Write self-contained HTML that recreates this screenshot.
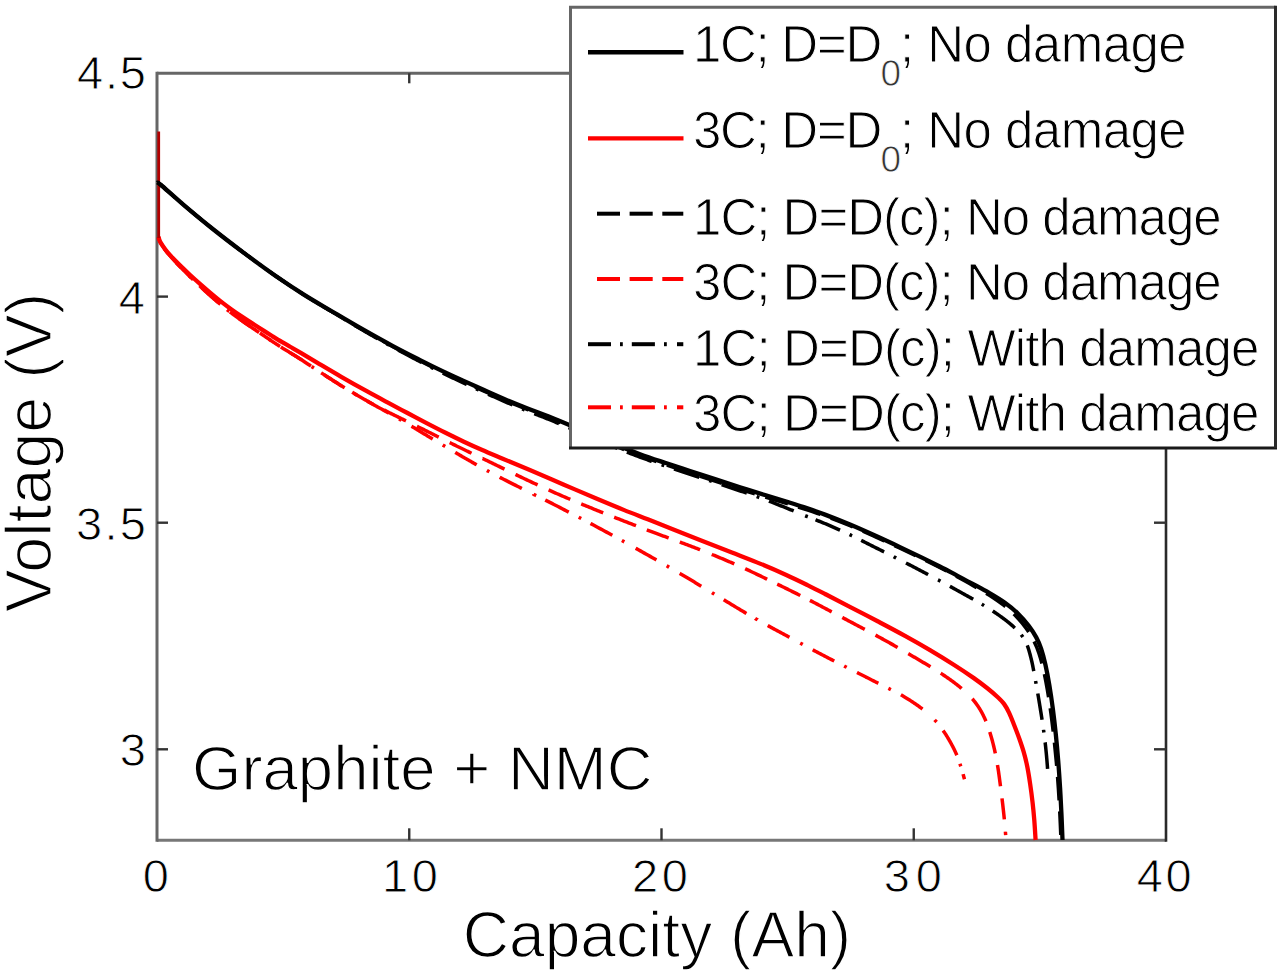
<!DOCTYPE html>
<html><head><meta charset="utf-8"><style>
html,body{margin:0;padding:0;background:#fff;}
svg{display:block;}
text{font-family:"Liberation Sans",sans-serif;}
</style></head><body>
<svg width="1280" height="976" viewBox="0 0 1280 976">
<rect width="1280" height="976" fill="#fff"/>
<line x1="157" y1="73.3" x2="1166" y2="73.3" stroke="#666" stroke-width="3"/>
<line x1="157" y1="840.3" x2="1166" y2="840.3" stroke="#777" stroke-width="3"/>
<line x1="157" y1="71.8" x2="157" y2="841.8" stroke="#666" stroke-width="3"/>
<line x1="1166" y1="71.8" x2="1166" y2="841.8" stroke="#2a2a2a" stroke-width="2.6"/>
<line x1="409.25" y1="840.3" x2="409.25" y2="828.3" stroke="#333" stroke-width="2.4"/>
<line x1="409.25" y1="73.3" x2="409.25" y2="83.3" stroke="#333" stroke-width="2.4"/>
<line x1="661.5" y1="840.3" x2="661.5" y2="828.3" stroke="#333" stroke-width="2.4"/>
<line x1="661.5" y1="73.3" x2="661.5" y2="83.3" stroke="#333" stroke-width="2.4"/>
<line x1="913.75" y1="840.3" x2="913.75" y2="828.3" stroke="#333" stroke-width="2.4"/>
<line x1="913.75" y1="73.3" x2="913.75" y2="83.3" stroke="#333" stroke-width="2.4"/>
<line x1="157" y1="296.6" x2="168" y2="296.6" stroke="#333" stroke-width="2.4"/>
<line x1="1166" y1="296.6" x2="1154" y2="296.6" stroke="#333" stroke-width="2.4"/>
<line x1="157" y1="522.7" x2="168" y2="522.7" stroke="#333" stroke-width="2.4"/>
<line x1="1166" y1="522.7" x2="1154" y2="522.7" stroke="#333" stroke-width="2.4"/>
<line x1="157" y1="749.3" x2="168" y2="749.3" stroke="#333" stroke-width="2.4"/>
<line x1="1166" y1="749.3" x2="1154" y2="749.3" stroke="#333" stroke-width="2.4"/>
<path d="M164.56,248.83 L164.62,248.92 L164.81,249.19 L165.01,249.47 L165.21,249.75 L165.41,250.04 L165.62,250.32 L165.84,250.61 L166.06,250.91 L166.28,251.21 L166.51,251.51 L166.75,251.82 L167.00,252.13 L167.25,252.45 L167.51,252.77 L167.77,253.10 L168.04,253.43 L168.32,253.77 L168.60,254.10 L168.88,254.45 L169.17,254.79 L169.47,255.14 L169.77,255.49 L170.07,255.85 L170.38,256.21 L170.69,256.57 L171.01,256.93 L171.33,257.30 L171.66,257.67 L171.99,258.04 L172.32,258.42 L172.66,258.80 L173.00,259.18 L173.35,259.56 L173.70,259.95 L174.05,260.34 L174.41,260.73 L174.78,261.12 L175.15,261.52 L175.52,261.92 L175.90,262.33 L176.28,262.73 L176.66,263.14 L177.05,263.56 L177.45,263.97 L177.85,264.39 L178.25,264.81 L178.66,265.23 L179.07,265.66 L179.48,266.09 L179.90,266.53 L180.32,266.96 L180.75,267.40 L180.87,267.52 M199.55,285.78 L199.57,285.80 L200.08,286.28 L200.59,286.75 L201.09,287.22 L201.60,287.69 L202.10,288.15 L202.61,288.62 L203.11,289.09 L203.62,289.55 L204.12,290.01 L204.62,290.47 L205.13,290.93 L205.63,291.39 L206.14,291.85 L206.64,292.31 L207.15,292.77 L207.66,293.23 L208.16,293.68 L208.67,294.14 L209.18,294.60 L209.69,295.05 L210.20,295.51 L210.72,295.96 L211.23,296.42 L211.75,296.87 L212.26,297.33 L212.78,297.78 L213.30,298.24 L213.81,298.69 L214.33,299.14 L214.85,299.60 L215.37,300.05 L215.89,300.50 L216.41,300.95 L216.94,301.40 L217.46,301.84 L217.98,302.29 L218.04,302.34 M238.66,318.37 L238.73,318.43 L239.25,318.80 L239.77,319.17 L240.29,319.54 L240.81,319.91 L241.33,320.28 L241.85,320.65 L242.37,321.02 L242.89,321.39 L243.41,321.75 L243.93,322.12 L244.45,322.49 L244.97,322.85 L245.49,323.21 L246.01,323.57 L246.53,323.94 L247.05,324.30 L247.57,324.66 L248.09,325.01 L248.61,325.37 L249.13,325.73 L249.64,326.08 L250.16,326.44 L250.68,326.79 L251.19,327.14 L251.70,327.50 L252.22,327.85 L252.73,328.19 L253.24,328.54 L253.75,328.89 L254.25,329.23 L254.76,329.57 L255.27,329.92 L255.77,330.26 L256.28,330.60 L256.78,330.94 L257.29,331.28 L257.79,331.61 L258.30,331.95 L258.80,332.29 L259.09,332.49 M280.82,346.99 L280.82,346.99 L281.29,347.29 L281.75,347.59 L282.21,347.88 L282.66,348.16 L283.11,348.44 L283.55,348.71 L283.98,348.98 L284.41,349.24 L284.84,349.50 L285.27,349.76 L285.70,350.02 L286.12,350.28 L286.55,350.54 L286.99,350.80 L287.42,351.06 L287.86,351.32 L288.30,351.59 L288.75,351.86 L289.21,352.14 L289.67,352.42 L290.14,352.71 L290.62,353.01 L291.11,353.31 L291.59,353.61 L292.07,353.90 L292.55,354.20 L293.03,354.49 L293.51,354.78 L293.99,355.08 L294.48,355.38 L294.97,355.69 L295.48,356.00 L295.99,356.31 L296.51,356.64 L297.05,356.97 L297.59,357.32 L298.16,357.67 L298.74,358.04 L299.33,358.42 L299.95,358.81 L300.59,359.22 L301.25,359.65 L301.92,360.08 M323.73,374.46 L324.00,374.64 L325.17,375.40 L326.35,376.17 L327.55,376.95 L328.77,377.74 L329.99,378.53 L331.23,379.33 L332.47,380.13 L333.72,380.93 L334.98,381.73 L336.24,382.53 L337.49,383.33 L338.75,384.12 L340.00,384.90 L341.25,385.67 L342.51,386.45 L343.78,387.23 L344.68,387.78 M367.17,401.08 L367.25,401.12 L368.40,401.79 L369.54,402.43 L370.65,403.07 L371.75,403.69 L372.84,404.29 L373.91,404.88 L374.96,405.47 L376.00,406.04 L377.03,406.60 L378.05,407.16 L379.05,407.71 L380.05,408.25 L381.03,408.79 L382.01,409.33 L382.98,409.86 L383.95,410.39 L384.90,410.91 L385.86,411.44 L386.80,411.97 L387.75,412.50 L388.68,413.03 L388.87,413.13 M411.47,426.23 L411.66,426.34 L412.64,426.93 L413.62,427.53 L414.61,428.12 L415.60,428.73 L416.60,429.33 L417.61,429.94 L418.62,430.55 L419.63,431.16 L420.65,431.78 L421.67,432.40 L422.69,433.01 L423.72,433.63 L424.75,434.25 L425.79,434.87 L426.83,435.50 L427.88,436.13 L428.93,436.76 L430.00,437.40 L431.06,438.04 L432.14,438.69 L432.74,439.05 M455.19,452.42 L455.24,452.45 L456.32,453.08 L457.40,453.72 L458.48,454.35 L459.57,454.99 L460.66,455.63 L461.75,456.26 L462.84,456.90 L463.94,457.54 L465.04,458.17 L466.15,458.81 L467.26,459.45 L468.37,460.09 L469.48,460.72 L470.59,461.35 L471.69,461.98 L472.79,462.61 L473.89,463.24 L474.99,463.86 L476.09,464.49 L476.69,464.83 M499.68,477.24 L499.96,477.39 L501.30,478.07 L502.65,478.76 L504.01,479.46 L505.40,480.16 L506.81,480.88 L508.23,481.60 L509.68,482.34 L511.16,483.08 L512.66,483.84 L514.19,484.61 L515.76,485.40 L517.35,486.20 L518.98,487.02 L520.63,487.86 L521.83,488.46 M545.23,500.08 L545.89,500.41 L547.88,501.40 L549.89,502.41 L551.90,503.43 L553.93,504.46 L555.97,505.50 L558.02,506.55 L560.11,507.63 L562.23,508.72 L564.37,509.82 L566.55,510.95 L568.74,512.08 M590.49,523.47 L591.24,523.87 L593.48,525.06 L595.70,526.24 L597.90,527.42 L600.08,528.59 L602.24,529.75 L604.41,530.92 L606.57,532.10 L608.74,533.28 L610.91,534.47 L612.35,535.26 M635.67,548.23 L636.36,548.61 L638.39,549.75 L640.40,550.88 L642.39,552.00 L644.36,553.11 L646.31,554.21 L648.24,555.30 L650.15,556.39 L652.05,557.46 L653.93,558.53 L655.79,559.59 L656.41,559.94 M679.67,573.38 L680.26,573.72 L682.01,574.74 L683.75,575.76 L685.48,576.79 L687.21,577.81 L688.93,578.83 L690.64,579.84 L692.34,580.86 L694.04,581.87 L695.72,582.88 L697.40,583.88 L699.08,584.89 L700.74,585.88 L701.29,586.22 M723.70,599.73 L724.21,600.05 L725.76,600.99 L727.29,601.92 L728.82,602.85 L730.33,603.77 L731.83,604.69 L733.32,605.59 L734.79,606.48 L736.25,607.37 L737.70,608.24 L739.12,609.09 L740.53,609.94 L741.93,610.76 L743.30,611.58 L744.65,612.37 L745.98,613.15 L746.42,613.41 M767.75,625.52 L768.14,625.74 L769.29,626.38 L770.43,627.01 L771.56,627.63 L772.69,628.25 L773.80,628.86 L774.91,629.46 L776.01,630.06 L777.10,630.65 L778.20,631.24 L779.28,631.82 L780.37,632.41 L781.46,632.99 L782.54,633.57 L783.63,634.15 L784.71,634.74 L785.81,635.32 L786.90,635.91 L788.00,636.50 L789.11,637.10 L789.48,637.30 M812.72,649.80 L813.10,650.00 L814.21,650.59 L815.33,651.18 L816.45,651.77 L817.57,652.36 L818.68,652.94 L819.80,653.53 L820.92,654.11 L822.03,654.70 L823.15,655.28 L824.26,655.86 L825.37,656.44 L826.49,657.02 L827.60,657.60 L828.71,658.18 L829.82,658.75 L830.93,659.32 L832.04,659.90 L833.15,660.47 L834.26,661.04 M856.99,672.50 L857.34,672.67 L858.37,673.20 L859.40,673.72 L860.43,674.24 L861.45,674.76 L862.47,675.28 L863.48,675.79 L864.48,676.30 L865.48,676.81 L866.47,677.32 L867.44,677.81 L868.41,678.31 L869.37,678.79 L870.31,679.28 L871.24,679.75 L872.15,680.21 L873.05,680.67 L873.94,681.12 L874.80,681.56 L875.65,681.98 L876.47,682.40 L877.27,682.80 L878.05,683.19 L878.31,683.32 M900.92,694.80 L901.16,694.94 L901.88,695.35 L902.62,695.78 L903.37,696.22 L904.14,696.69 L904.93,697.16 L905.74,697.66 L906.56,698.17 L907.40,698.69 L908.25,699.22 L909.11,699.76 L909.97,700.31 L910.85,700.87 L911.72,701.44 L912.60,702.02 L913.48,702.60 L914.35,703.18 L915.21,703.77 L916.07,704.36 L916.92,704.95 L917.76,705.54 L918.58,706.13 L919.38,706.72 L920.17,707.31 L920.94,707.89 L921.70,708.48 L922.46,709.07 M943.15,730.61 L943.29,730.81 L943.70,731.39 L944.10,731.97 L944.50,732.56 L944.89,733.14 L945.28,733.73 L945.67,734.32 L946.05,734.91 L946.42,735.50 L946.79,736.10 L947.16,736.69 L947.52,737.29 L947.88,737.88 L948.24,738.48 L948.59,739.08 L948.94,739.68 L949.28,740.28 L949.63,740.88 L949.97,741.48 L950.30,742.08 L950.64,742.68 L950.97,743.28 L951.30,743.88 L951.63,744.48 L951.96,745.08 L952.28,745.69 L952.60,746.29 L952.91,746.90 L953.23,747.51 L953.54,748.11 L953.84,748.72 L954.14,749.33 L954.44,749.94 L954.74,750.55 L955.02,751.16 L955.31,751.76 L955.59,752.37 L955.87,752.98 L956.14,753.59 L956.40,754.19 L956.66,754.80 L956.84,755.20 M963.08,774.17 L963.14,774.40 L963.33,775.07 L963.51,775.71 L963.68,776.33 L963.84,776.91 L963.99,777.46 L964.13,777.97 L964.26,778.43 L964.37,778.84 L964.47,779.19 L964.50,779.30 M533.66,494.33 L533.66,494.34 L535.54,495.26 L536.17,495.57 M578.71,517.27 L579.19,517.52 L581.19,518.57 M621.88,540.52 L622.40,540.81 L624.33,541.88 M666.69,565.84 L666.71,565.85 L668.50,566.88 L669.12,567.24 M712.00,592.65 L712.14,592.74 L713.73,593.69 L714.40,594.10 M755.21,618.47 L755.22,618.48 L756.43,619.17 L757.62,619.84 L757.64,619.86 M800.23,643.11 L800.34,643.17 L801.47,643.77 L802.59,644.38 L802.70,644.44 M844.20,666.07 L844.33,666.14 L845.45,666.70 L846.57,667.26 L846.70,667.33 M888.37,688.34 L888.49,688.40 L889.16,688.75 L889.85,689.10 L890.54,689.45 L890.87,689.62 M934.68,719.96 L934.73,720.02 L935.28,720.60 L935.82,721.18 L936.33,721.75 L936.58,722.02 M959.93,763.72 L959.97,763.85 L960.16,764.45 L960.36,765.05 L960.55,765.66 L960.74,766.27 L960.78,766.39 M189.10,275.78 L189.15,275.84 L189.64,276.32 L190.12,276.79 L190.61,277.27 L191.10,277.74 M227.09,309.71 L227.15,309.76 L227.67,310.16 L228.19,310.56 L228.70,310.97 L229.22,311.37 L229.30,311.42 M268.76,339.01 L268.79,339.03 L269.29,339.37 L269.80,339.71 L270.30,340.05 L270.80,340.38 L271.08,340.57 M311.63,366.53 L311.90,366.71 L312.78,367.29 L313.68,367.89 L313.97,368.08 M354.68,393.78 L354.90,393.91 L356.25,394.70 L357.09,395.20 M399.01,418.89 L399.19,418.99 L400.02,419.47 L400.87,419.96 L401.44,420.29 M442.75,445.04 L442.99,445.19 L444.08,445.84 L445.15,446.47 M486.89,470.49 L487.17,470.65 L488.40,471.31 L489.35,471.82" fill="none" stroke="#ff0000" stroke-width="3.5" stroke-linejoin="round" stroke-linecap="butt"/>
<path d="M158.50,237.01 L158.51,237.05 L158.55,237.18 L158.60,237.34 L158.65,237.50 L158.70,237.69 L158.75,237.89 L158.81,238.10 L158.88,238.33 L158.94,238.56 L159.01,238.81 L159.09,239.06 L159.17,239.32 L159.25,239.58 L159.33,239.84 L159.42,240.11 L159.52,240.37 L159.61,240.64 L159.71,240.90 L159.82,241.15 L159.93,241.40 L160.04,241.64 L160.15,241.87 L160.28,242.11 L160.40,242.35 L160.53,242.59 L160.67,242.83 L160.80,243.07 L160.95,243.32 L161.09,243.56 L161.24,243.81 L161.39,244.05 L161.55,244.30 L161.71,244.55 L161.87,244.80 L162.03,245.05 L162.20,245.31 L162.37,245.56 L162.54,245.82 L162.71,246.08 L162.88,246.34 L163.06,246.61 L163.23,246.87 L163.41,247.13 L163.59,247.40 L163.76,247.66 L163.94,247.93 L164.12,248.20 L164.31,248.47 L164.49,248.74 L164.68,249.01 L164.88,249.29 L165.07,249.56 L165.28,249.85 L165.48,250.13 L165.69,250.42 L165.91,250.71 L166.13,251.01 L166.36,251.31 L166.59,251.61 L166.83,251.92 L167.08,252.24 L167.34,252.56 L167.60,252.88 L167.86,253.21 L167.98,253.36 M176.08,262.52 L176.15,262.60 L176.53,263.01 L176.92,263.42 L177.32,263.83 L177.71,264.25 L178.12,264.67 L178.52,265.09 L178.93,265.52 L179.34,265.95 L179.76,266.38 L180.18,266.82 L180.61,267.25 L181.04,267.69 L181.47,268.14 L181.91,268.59 L182.36,269.05 L182.81,269.51 L183.27,269.97 L183.73,270.43 L184.19,270.90 L184.66,271.38 L185.13,271.85 L185.61,272.32 L186.08,272.80 L186.56,273.28 L187.05,273.76 L187.53,274.24 L188.01,274.72 L188.50,275.20 L188.99,275.68 L189.47,276.16 L189.96,276.63 L190.45,277.11 L190.94,277.59 L191.44,278.07 L191.94,278.55 L192.44,279.03 L192.94,279.52 L193.23,279.80 M202.13,288.18 L202.27,288.31 L202.78,288.78 L203.28,289.24 L203.78,289.70 L204.29,290.17 L204.79,290.63 L205.30,291.09 L205.80,291.55 L206.31,292.01 L206.81,292.47 L207.32,292.92 L207.83,293.38 L208.33,293.84 L208.84,294.29 L209.35,294.75 L209.86,295.20 L210.38,295.66 L210.89,296.11 L211.40,296.57 L211.92,297.02 L212.43,297.48 L212.95,297.93 L213.47,298.39 L213.99,298.84 L214.51,299.30 L215.03,299.75 L215.55,300.20 L216.07,300.65 L216.59,301.10 L217.11,301.55 L217.63,301.99 L218.15,302.43 L218.67,302.88 L219.19,303.31 L219.71,303.75 L220.23,304.18 L220.37,304.30 M229.94,311.92 L230.09,312.03 L230.61,312.43 L231.12,312.82 L231.64,313.22 L232.16,313.61 L232.68,314.00 L233.20,314.39 L233.72,314.77 L234.24,315.15 L234.76,315.54 L235.28,315.92 L235.79,316.30 L236.31,316.68 L236.83,317.05 L237.35,317.43 L237.87,317.80 L238.39,318.18 L238.91,318.55 L239.43,318.92 L239.94,319.29 L240.46,319.66 L240.98,320.04 L241.50,320.40 L242.02,320.77 L242.54,321.14 L243.06,321.51 L243.58,321.88 L244.10,322.24 L244.62,322.61 L245.14,322.97 L245.66,323.33 L246.18,323.70 L246.70,324.06 L247.22,324.42 L247.74,324.77 L248.26,325.13 L248.78,325.49 L249.30,325.85 L249.71,326.13 M259.84,332.99 L259.98,333.08 L260.48,333.42 L260.99,333.76 L261.49,334.10 L262.00,334.44 L262.51,334.78 L263.01,335.13 L263.52,335.47 L264.03,335.81 L264.54,336.16 L265.05,336.50 L265.56,336.85 L266.07,337.20 L266.58,337.54 L267.09,337.89 L267.60,338.23 L268.11,338.57 L268.62,338.92 L269.12,339.26 L269.63,339.60 L270.13,339.93 L270.63,340.27 L271.13,340.61 L271.63,340.94 L272.12,341.27 L272.62,341.60 L273.11,341.92 L273.60,342.25 L274.09,342.58 L274.58,342.90 L275.07,343.23 L275.56,343.55 L276.05,343.87 L276.53,344.19 L277.02,344.51 L277.50,344.83 L277.98,345.15 L278.46,345.46 L278.93,345.77 L279.41,346.08 L279.88,346.39 L280.08,346.52 M290.49,352.93 L290.62,353.01 L291.11,353.31 L291.59,353.61 L292.07,353.90 L292.55,354.20 L293.03,354.49 L293.51,354.78 L293.99,355.08 L294.48,355.38 L294.97,355.69 L295.48,356.00 L295.99,356.31 L296.51,356.64 L297.05,356.97 L297.59,357.32 L298.16,357.67 L298.74,358.04 L299.33,358.42 L299.95,358.81 L300.59,359.22 L301.25,359.65 L301.93,360.09 L302.61,360.53 L303.31,360.99 L304.02,361.46 L304.74,361.94 L305.48,362.43 L306.22,362.92 L306.99,363.43 L307.76,363.95 L308.55,364.48 L309.36,365.02 L310.19,365.57 L310.97,366.09 M321.20,372.81 L321.36,372.92 L322.48,373.65 L323.62,374.39 L324.78,375.15 L325.96,375.92 L327.15,376.70 L328.36,377.48 L329.58,378.28 L330.81,379.07 L332.06,379.87 L333.31,380.67 L334.56,381.48 L335.82,382.27 L337.07,383.07 L338.33,383.86 L339.59,384.64 L340.84,385.42 L341.69,385.94 M352.17,392.26 L352.20,392.28 L353.55,393.08 L354.90,393.88 L356.25,394.66 L357.58,395.45 L358.91,396.22 L360.22,396.98 L361.51,397.73 L362.79,398.46 L364.04,399.18 L365.27,399.88 L366.47,400.56 L367.64,401.22 L368.78,401.86 L369.91,402.49 L371.02,403.10 L372.12,403.70 L373.20,404.28 L373.30,404.34 M384.14,410.02 L384.27,410.09 L385.22,410.58 L386.17,411.07 L387.12,411.55 L388.06,412.04 L388.99,412.51 L389.89,412.96 L390.77,413.41 L391.63,413.84 L392.48,414.26 L393.32,414.68 L394.15,415.08 L394.97,415.49 L395.79,415.89 L396.61,416.29 L397.43,416.68 L398.25,417.08 L399.08,417.49 L399.92,417.89 L400.78,418.31 L401.65,418.73 L402.53,419.16 L403.44,419.61 L404.37,420.06 L405.32,420.53 L405.95,420.84 M416.91,426.25 L417.27,426.43 L418.36,426.96 L419.44,427.50 L420.54,428.04 L421.65,428.59 L422.76,429.14 L423.87,429.69 L425.00,430.25 L426.12,430.81 L427.27,431.38 L428.43,431.96 L429.61,432.55 L430.81,433.15 L432.03,433.76 L433.25,434.37 L434.49,434.99 L435.73,435.62 L436.97,436.24 L438.22,436.87 L438.71,437.11 M449.65,442.58 L449.88,442.69 L450.99,443.24 L452.11,443.79 L453.22,444.34 L454.32,444.88 L455.41,445.42 L456.50,445.95 L457.58,446.48 L458.65,447.00 L459.71,447.52 L460.76,448.03 L461.80,448.54 L462.83,449.04 L463.85,449.54 L464.85,450.02 L465.84,450.50 L466.82,450.98 L467.78,451.44 L468.73,451.90 L469.66,452.35 L470.57,452.79 L471.47,453.22 L471.53,453.25 M482.58,458.50 L482.59,458.50 L483.34,458.86 L484.11,459.22 L484.89,459.60 L485.70,459.99 L486.53,460.38 L487.36,460.78 L488.18,461.18 L489.00,461.58 L489.81,461.97 L490.63,462.37 L491.45,462.77 L492.28,463.18 L493.11,463.58 L493.96,464.00 L494.82,464.42 L495.69,464.84 L496.58,465.28 L497.50,465.72 L498.43,466.18 L499.39,466.64 L500.37,467.12 L501.39,467.61 L502.43,468.12 L503.51,468.64 L504.49,469.12 M515.49,474.45 L515.94,474.67 L517.31,475.33 L518.70,476.00 L520.10,476.68 L521.51,477.35 L522.93,478.03 L524.36,478.72 L525.80,479.40 L527.25,480.09 L528.70,480.77 L530.16,481.45 L531.61,482.13 L533.08,482.81 L534.58,483.50 L536.09,484.20 L537.61,484.90 M548.63,489.93 L549.17,490.17 L550.77,490.89 L552.37,491.61 L553.97,492.33 L555.57,493.04 L557.17,493.74 L558.76,494.44 L560.34,495.14 L561.92,495.82 L563.48,496.50 L565.05,497.18 L566.61,497.85 L568.18,498.51 L569.75,499.18 L570.27,499.40 M581.23,503.95 L581.76,504.16 L583.32,504.81 L584.89,505.45 L586.45,506.08 L588.02,506.72 L589.58,507.36 L591.15,507.99 L592.71,508.63 L594.27,509.26 L595.84,509.90 L597.41,510.53 L598.98,511.16 L600.55,511.79 L602.12,512.42 L603.17,512.84 M614.17,517.20 L614.69,517.41 L616.24,518.02 L617.79,518.63 L619.34,519.24 L620.87,519.84 L622.40,520.44 L623.93,521.03 L625.44,521.62 L626.96,522.21 L628.47,522.80 L629.98,523.39 L631.50,523.97 L633.01,524.56 L634.51,525.14 L636.02,525.72 M646.81,529.84 L647.29,530.02 L648.71,530.56 L650.12,531.09 L651.51,531.62 L652.89,532.14 L654.25,532.65 L655.59,533.15 L656.92,533.65 L658.23,534.14 L659.53,534.62 L660.82,535.09 L662.09,535.56 L663.35,536.02 L664.60,536.48 L665.84,536.93 L667.07,537.38 L668.29,537.82 L668.69,537.97 M679.78,542.04 L680.17,542.19 L681.33,542.62 L682.47,543.04 L683.61,543.47 L684.73,543.89 L685.85,544.30 L686.96,544.72 L688.07,545.13 L689.17,545.55 L690.27,545.96 L691.36,546.37 L692.45,546.78 L693.54,547.20 L694.64,547.61 L695.73,548.03 L696.82,548.45 L697.92,548.88 L699.03,549.31 L700.13,549.74 M711.78,554.38 L712.15,554.54 L713.29,555.00 L714.42,555.46 L715.54,555.92 L716.67,556.39 L717.80,556.86 L718.92,557.32 L720.04,557.79 L721.16,558.26 L722.27,558.73 L723.38,559.19 L724.49,559.66 L725.59,560.13 L726.69,560.60 L727.78,561.07 L728.87,561.54 L729.96,562.01 L731.05,562.48 L732.13,562.95 L733.21,563.42 L734.30,563.90 M745.14,568.76 L745.50,568.92 L746.59,569.43 L747.69,569.93 L748.78,570.44 L749.88,570.95 L750.98,571.47 L752.07,571.98 L753.17,572.50 L754.27,573.02 L755.37,573.54 L756.47,574.07 L757.57,574.59 L758.67,575.12 L759.77,575.65 L760.87,576.18 L761.98,576.71 L763.08,577.24 L764.18,577.78 L765.29,578.31 L766.39,578.84 L767.13,579.20 M777.20,584.08 L777.57,584.26 L778.69,584.81 L779.82,585.36 L780.94,585.91 L782.05,586.45 L783.17,587.00 L784.28,587.55 L785.38,588.09 L786.48,588.64 L787.58,589.18 L788.67,589.71 L789.75,590.25 L790.83,590.78 L791.89,591.31 L792.96,591.84 L794.01,592.36 L795.07,592.89 L796.11,593.41 L797.16,593.93 L798.20,594.45 L799.24,594.97 L800.27,595.48 M809.95,600.39 L810.30,600.57 L811.35,601.11 L812.40,601.65 L813.45,602.20 L814.49,602.74 L815.54,603.29 L816.59,603.84 L817.63,604.39 L818.68,604.95 L819.73,605.50 L820.78,606.06 L821.83,606.61 L822.88,607.17 L823.93,607.73 L824.99,608.29 L826.05,608.86 L827.11,609.42 L828.17,609.98 L829.24,610.55 L830.31,611.12 L831.38,611.69 L831.74,611.88 M842.29,617.46 L842.66,617.66 L843.76,618.24 L844.87,618.83 L845.97,619.41 L847.08,620.00 L848.18,620.58 L849.28,621.17 L850.38,621.75 L851.48,622.34 L852.58,622.92 L853.67,623.50 L854.77,624.08 L855.87,624.67 L856.98,625.25 L858.09,625.84 L859.20,626.43 L860.31,627.02 L861.42,627.61 L862.54,628.20 L863.65,628.79 L864.75,629.38 M875.49,635.12 L875.83,635.31 L876.85,635.86 L877.86,636.42 L878.86,636.97 L879.86,637.51 L880.85,638.06 L881.84,638.60 L882.82,639.14 L883.79,639.67 L884.75,640.21 L885.71,640.74 L886.67,641.27 L887.61,641.80 L888.55,642.32 L889.48,642.84 L890.41,643.36 L891.33,643.88 L892.24,644.39 L893.15,644.90 L894.05,645.41 L894.95,645.92 L895.83,646.42 L896.71,646.92 L897.57,647.41 M908.26,653.62 L908.53,653.78 L909.34,654.26 L910.16,654.74 L910.98,655.21 L911.80,655.70 L912.62,656.18 L913.44,656.65 L914.25,657.13 L915.07,657.61 L915.88,658.09 L916.70,658.56 L917.51,659.04 L918.32,659.52 L919.13,660.00 L919.95,660.48 L920.76,660.95 L921.57,661.43 L922.38,661.92 L923.18,662.40 L923.99,662.88 L924.80,663.37 L925.61,663.85 L926.42,664.34 L927.23,664.84 L928.04,665.33 L928.85,665.82 L929.66,666.31 L930.47,666.81 M940.69,673.18 L940.96,673.35 L941.76,673.88 L942.56,674.41 L943.36,674.95 L944.16,675.49 L944.96,676.04 L945.77,676.59 L946.58,677.15 L947.40,677.72 L948.22,678.29 L949.04,678.86 L949.85,679.44 L950.67,680.02 L951.48,680.61 L952.28,681.19 L953.08,681.78 L953.88,682.36 L954.66,682.95 L955.44,683.53 L956.20,684.11 L956.95,684.69 L957.69,685.27 L958.41,685.84 L959.12,686.41 L959.81,686.98 L960.49,687.54 L961.16,688.10 L961.61,688.48 M972.29,698.78 L972.45,698.95 L972.91,699.48 L973.36,700.01 L973.79,700.53 L974.21,701.05 L974.63,701.56 L975.03,702.08 L975.43,702.60 L975.81,703.12 L976.20,703.64 L976.57,704.16 L976.94,704.69 L977.31,705.22 L977.67,705.75 L978.03,706.30 L978.39,706.85 L978.75,707.40 L979.11,707.97 L979.47,708.54 L979.83,709.12 L980.18,709.70 L980.53,710.29 L980.87,710.88 L981.21,711.48 L981.54,712.08 L981.88,712.68 L982.20,713.29 L982.53,713.90 L982.85,714.52 L983.16,715.14 L983.47,715.76 L983.78,716.40 L984.09,717.03 L984.39,717.68 L984.68,718.32 L984.98,718.98 L985.27,719.64 L985.56,720.30 L985.84,720.97 L985.94,721.20 M989.76,732.00 L989.84,732.25 L990.07,733.00 L990.30,733.75 L990.52,734.50 L990.75,735.25 L990.97,736.00 L991.19,736.76 L991.41,737.51 L991.63,738.27 L991.84,739.03 L992.05,739.79 L992.26,740.56 L992.47,741.33 L992.67,742.10 L992.87,742.88 L993.07,743.65 L993.26,744.43 L993.46,745.21 L993.65,745.99 L993.84,746.78 L994.02,747.57 L994.21,748.36 L994.39,749.15 L994.57,749.95 L994.75,750.75 L994.93,751.55 L995.10,752.35 L995.27,753.16 L995.33,753.43 M997.47,764.98 L997.52,765.26 L997.66,766.11 L997.80,766.96 L997.94,767.82 L998.08,768.69 L998.21,769.56 L998.35,770.43 L998.48,771.31 L998.61,772.20 L998.73,773.09 L998.86,773.98 L998.98,774.88 L999.11,775.77 L999.23,776.67 L999.35,777.57 L999.47,778.47 L999.59,779.37 L999.70,780.26 L999.82,781.16 L999.94,782.05 L1000.05,782.94 L1000.17,783.83 L1000.29,784.71 L1000.40,785.59 L1000.48,786.17 M1002.01,798.40 L1002.04,798.68 L1002.14,799.54 L1002.24,800.39 L1002.34,801.23 L1002.44,802.07 L1002.54,802.91 L1002.64,803.75 L1002.74,804.58 L1002.83,805.42 L1002.93,806.26 L1003.02,807.09 L1003.12,807.93 L1003.21,808.76 L1003.30,809.58 L1003.40,810.41 L1003.49,811.22 L1003.58,812.03 L1003.66,812.84 L1003.75,813.63 L1003.83,814.42 L1003.92,815.20 L1004.00,815.97 L1004.07,816.72 L1004.15,817.47 L1004.23,818.21 L1004.30,818.93 L1004.34,819.41 M1005.39,831.53 L1005.40,831.71 L1005.45,832.25 L1005.49,832.78 L1005.53,833.31 L1005.57,833.84 L1005.61,834.36 L1005.64,834.87 L1005.67,835.20" fill="none" stroke="#ff0000" stroke-width="3.5" stroke-linejoin="round" stroke-linecap="butt"/>
<path d="M158.50,236.99 C158.75,237.73 159.25,239.90 160.00,241.44 C160.75,242.98 161.83,244.54 163.00,246.23 C164.17,247.93 165.33,249.60 167.00,251.62 C168.67,253.63 170.71,255.91 173.00,258.32 C175.29,260.74 177.90,263.33 180.75,266.10 C183.60,268.87 186.88,271.96 190.12,274.96 C193.38,277.95 196.88,281.09 200.25,284.07 C203.62,287.05 206.96,289.96 210.38,292.84 C213.79,295.73 217.29,298.66 220.75,301.38 C224.21,304.11 227.67,306.68 231.12,309.18 C234.58,311.67 238.04,314.02 241.50,316.35 C244.96,318.67 248.46,320.94 251.88,323.14 C255.29,325.34 258.62,327.42 262.00,329.56 C265.38,331.70 268.83,333.92 272.12,335.98 C275.42,338.04 278.67,340.08 281.75,341.91 C284.83,343.75 287.38,345.12 290.62,346.99 C293.88,348.85 296.77,350.46 301.25,353.10 C305.73,355.75 310.83,358.90 317.50,362.86 C324.17,366.81 332.96,372.06 341.25,376.83 C349.54,381.60 359.31,387.09 367.25,391.48 C375.19,395.86 382.17,399.56 388.88,403.15 C395.58,406.74 401.29,409.72 407.50,413.00 C413.71,416.28 419.88,419.57 426.12,422.82 C432.38,426.07 438.71,429.35 445.00,432.50 C451.29,435.65 457.67,438.78 463.88,441.70 C470.08,444.62 475.77,447.20 482.25,450.02 C488.73,452.85 494.80,455.33 502.73,458.67 C510.65,462.02 519.72,465.78 529.83,470.07 C539.93,474.37 552.18,479.64 563.35,484.43 C574.52,489.21 586.73,494.52 596.88,498.80 C607.02,503.08 615.77,506.71 624.25,510.12 C632.73,513.54 639.77,516.15 647.75,519.27 C655.73,522.40 663.33,525.38 672.12,528.88 C680.92,532.37 690.54,536.31 700.50,540.25 C710.46,544.19 721.85,548.56 731.88,552.50 C741.90,556.44 751.56,560.12 760.62,563.88 C769.69,567.62 778.44,571.46 786.25,575.00 C794.06,578.54 800.94,581.91 807.50,585.12 C814.06,588.34 818.65,590.70 825.62,594.27 C832.60,597.85 840.62,602.01 849.38,606.55 C858.12,611.09 868.85,616.64 878.12,621.52 C887.40,626.41 896.35,631.11 905.00,635.88 C913.65,640.64 921.80,645.27 930.00,650.12 C938.20,654.98 946.87,660.33 954.17,665.00 C961.48,669.67 968.32,674.25 973.85,678.12 C979.38,682.00 983.46,685.15 987.36,688.25 C991.26,691.35 994.45,694.10 997.25,696.75 C1000.05,699.40 1002.21,701.44 1004.19,704.12 C1006.17,706.81 1007.47,709.40 1009.12,712.88 C1010.78,716.35 1012.44,720.73 1014.12,725.00 C1015.81,729.27 1017.65,733.98 1019.25,738.50 C1020.85,743.02 1022.42,747.46 1023.75,752.12 C1025.08,756.79 1026.19,761.23 1027.25,766.50 C1028.31,771.77 1029.24,777.75 1030.12,783.75 C1031.01,789.75 1031.88,796.42 1032.58,802.50 C1033.27,808.58 1033.80,814.00 1034.30,820.25 C1034.80,826.50 1035.38,836.71 1035.60,840.00" fill="none" stroke="#ff0000" stroke-width="4.3" stroke-linejoin="round" stroke-linecap="butt"/>
<line x1="158.7" y1="131.5" x2="158.7" y2="238" stroke="#b20000" stroke-width="2.8"/>
<path d="M157.50,182.50 L157.53,182.52 L157.59,182.56 L157.63,182.57 L157.66,182.57 L157.67,182.55 L157.68,182.53 L157.69,182.50 L157.70,182.48 L157.73,182.47 L157.78,182.48 L157.85,182.50 L157.95,182.56 L158.09,182.64 L158.27,182.77 L158.50,182.94 L158.78,183.16 L159.13,183.43 L159.54,183.76 L160.02,184.17 L160.58,184.64 L161.22,185.19 L161.95,185.82 L162.75,186.52 L163.62,187.29 L164.56,188.12 L165.56,189.01 L166.61,189.95 L167.72,190.93 L168.87,191.96 L170.06,193.02 L171.28,194.11 L172.53,195.22 L172.73,195.40 M190.54,210.75 L190.56,210.77 L191.95,211.94 L193.36,213.12 L194.78,214.30 L196.21,215.49 L197.66,216.69 L199.11,217.89 L200.58,219.10 L202.05,220.30 L203.53,221.52 L205.02,222.73 L206.51,223.94 L208.00,225.15 L209.50,226.35 L211.00,227.55 L211.09,227.63 M229.63,242.10 L230.15,242.50 L231.74,243.71 L233.33,244.93 L234.92,246.13 L236.51,247.34 L238.10,248.54 L239.68,249.73 L241.26,250.92 L242.83,252.09 L244.40,253.26 L245.96,254.43 L247.53,255.60 L249.10,256.77 L250.67,257.94 L250.88,258.09 M269.90,271.91 L269.92,271.93 L271.46,273.01 L272.98,274.09 L274.50,275.15 L276.01,276.20 L277.51,277.24 L279.01,278.27 L280.50,279.30 L281.99,280.32 L283.47,281.32 L284.95,282.32 L286.43,283.32 L287.90,284.30 L289.36,285.28 L290.83,286.25 L291.85,286.93 M311.67,299.58 L312.12,299.85 L313.48,300.68 L314.83,301.50 L316.19,302.32 L317.54,303.13 L318.89,303.94 L320.25,304.75 L321.60,305.55 L322.96,306.36 L324.33,307.17 L325.70,307.99 L327.08,308.81 L328.47,309.64 L329.87,310.48 L331.28,311.32 L332.70,312.18 L334.13,313.04 L334.48,313.25 M354.63,325.37 L355.09,325.64 L356.59,326.53 L358.10,327.42 L359.61,328.30 L361.12,329.19 L362.65,330.08 L364.20,330.98 L365.76,331.89 L367.33,332.80 L368.92,333.71 L370.51,334.63 L372.11,335.55 L373.71,336.47 L375.32,337.39 L376.92,338.31 L377.64,338.71 M398.19,350.15 L398.37,350.25 L399.82,351.03 L401.26,351.80 L402.69,352.56 L404.12,353.32 L405.53,354.07 L406.94,354.81 L408.33,355.54 L409.71,356.26 L411.07,356.97 L412.41,357.68 L413.75,358.37 L415.06,359.05 L416.36,359.73 L417.63,360.39 L418.89,361.04 L420.12,361.69 L421.34,362.31 L421.73,362.52 M442.72,373.11 L442.89,373.19 L443.92,373.70 L444.95,374.20 L445.97,374.69 L446.99,375.18 L448.00,375.66 L449.02,376.15 L450.03,376.63 L451.04,377.10 L452.05,377.58 L453.06,378.06 L454.07,378.53 L455.09,379.01 L456.11,379.49 L457.13,379.97 L458.16,380.45 L459.20,380.93 L460.24,381.42 L461.29,381.91 L462.35,382.40 L463.42,382.90 L464.50,383.40 L465.58,383.90 L466.67,384.40 L466.78,384.45 M488.18,394.20 L488.39,394.30 L489.48,394.79 L490.58,395.29 L491.67,395.79 L492.77,396.28 L493.86,396.77 L494.95,397.27 L496.05,397.76 L497.14,398.25 L498.23,398.74 L499.33,399.22 L500.42,399.71 L501.51,400.19 L502.60,400.67 L503.69,401.15 L504.78,401.62 L505.88,402.09 L506.97,402.56 L508.06,403.02 L509.15,403.49 L510.24,403.95 L511.33,404.41 L512.42,404.86 L512.52,404.91 M534.32,413.72 L534.51,413.79 L535.52,414.18 L536.54,414.57 L537.56,414.96 L538.58,415.36 L539.61,415.75 L540.66,416.16 L541.71,416.57 L542.78,416.99 L543.87,417.41 L544.97,417.85 L546.10,418.30 L547.25,418.76 L548.43,419.24 L549.63,419.73 L550.84,420.22 L552.06,420.73 L553.29,421.24 L554.54,421.75 L555.80,422.28 L557.07,422.81 L558.35,423.35 L559.00,423.62 M580.65,432.81 L580.90,432.92 L582.56,433.63 L584.25,434.36 L585.96,435.10 L587.69,435.85 L589.44,436.60 L591.20,437.36 L592.97,438.12 L594.74,438.89 L596.52,439.65 L598.29,440.41 L600.05,441.16 L601.81,441.91 L603.55,442.64 L605.09,443.29 M626.89,452.10 L627.41,452.31 L628.98,452.92 L630.53,453.52 L632.09,454.12 L633.63,454.71 L635.17,455.30 L636.70,455.87 L638.22,456.45 L639.74,457.01 L641.25,457.57 L642.75,458.13 L644.23,458.67 L645.70,459.19 L647.16,459.71 L648.60,460.23 L650.04,460.73 L651.47,461.23 L651.82,461.35 M674.10,468.88 L674.43,469.00 L675.92,469.50 L677.41,469.99 L678.91,470.49 L680.41,470.99 L681.91,471.49 L683.41,471.99 L684.92,472.50 L686.43,473.00 L687.94,473.50 L689.45,474.00 L690.96,474.50 L692.47,475.00 L693.98,475.50 L695.49,476.00 L696.99,476.50 L698.50,477.00 L699.33,477.28 M721.65,484.70 L722.13,484.86 L723.62,485.36 L725.10,485.86 L726.58,486.35 L728.05,486.84 L729.51,487.34 L730.97,487.83 L732.43,488.32 L733.88,488.80 L735.33,489.29 L736.78,489.77 L738.23,490.26 L739.68,490.74 L741.12,491.22 L742.55,491.70 L743.98,492.18 L745.40,492.66 L746.82,493.14 L746.86,493.16 M768.98,501.13 L769.32,501.26 L770.56,501.74 L771.79,502.21 L773.01,502.69 L774.22,503.16 L775.43,503.63 L776.63,504.11 L777.83,504.58 L779.03,505.05 L780.22,505.53 L781.42,506.00 L782.60,506.47 L783.79,506.94 L784.97,507.41 L786.14,507.88 L787.30,508.35 L788.45,508.82 L789.60,509.29 L790.74,509.76 L791.88,510.23 L793.02,510.70 L793.69,510.98 M815.49,519.79 L815.86,519.94 L816.98,520.38 L818.10,520.81 L819.22,521.25 L820.33,521.70 L821.45,522.14 L822.57,522.59 L823.68,523.04 L824.80,523.50 L825.92,523.96 L827.03,524.43 L828.15,524.90 L829.27,525.38 L830.38,525.86 L831.50,526.35 L832.61,526.83 L833.73,527.33 L834.84,527.82 L835.96,528.32 L837.07,528.82 L838.19,529.32 L839.30,529.83 L840.04,530.17 M861.17,540.33 L861.54,540.52 L862.65,541.08 L863.76,541.65 L864.87,542.21 L865.98,542.78 L867.09,543.34 L868.21,543.91 L869.32,544.47 L870.43,545.03 L871.54,545.59 L872.65,546.15 L873.76,546.71 L874.87,547.26 L875.98,547.82 L877.10,548.38 L878.21,548.93 L879.32,549.49 L880.43,550.05 L881.54,550.60 L882.65,551.16 L883.76,551.72 L884.13,551.90 M906.00,563.00 L906.37,563.19 L907.48,563.76 L908.59,564.34 L909.70,564.91 L910.81,565.48 L911.92,566.06 L913.03,566.63 L914.14,567.21 L915.25,567.79 L916.36,568.36 L917.47,568.94 L918.58,569.52 L919.68,570.10 L920.79,570.69 L921.90,571.27 L923.00,571.85 L924.11,572.44 L925.22,573.02 L926.32,573.61 L927.43,574.19 L928.16,574.58 M949.92,586.34 L950.28,586.54 L951.39,587.15 L952.49,587.76 L953.60,588.36 L954.70,588.97 L955.79,589.58 L956.88,590.18 L957.97,590.78 L959.05,591.38 L960.13,591.98 L961.20,592.58 L962.27,593.17 L963.34,593.76 L964.40,594.35 L965.47,594.93 L966.53,595.52 L967.59,596.10 L968.65,596.69 L969.70,597.27 L970.75,597.85 L971.80,598.43 L972.84,599.01 L973.19,599.21 M992.73,611.02 L993.03,611.22 L993.94,611.82 L994.84,612.42 L995.74,613.02 L996.62,613.63 L997.50,614.23 L998.37,614.83 L999.22,615.44 L1000.07,616.05 L1000.91,616.66 L1001.74,617.27 L1002.57,617.88 L1003.40,618.49 L1004.22,619.11 L1005.03,619.72 L1005.84,620.34 L1006.64,620.96 L1007.43,621.58 L1008.21,622.20 L1008.98,622.82 L1009.73,623.44 L1010.48,624.06 L1011.21,624.68 L1011.93,625.30 L1012.64,625.92 L1013.33,626.54 L1014.00,627.16 L1014.65,627.78 L1014.87,627.98 M1027.24,645.33 L1027.29,645.45 L1027.58,646.24 L1027.87,647.04 L1028.14,647.85 L1028.41,648.68 L1028.68,649.52 L1028.94,650.39 L1029.19,651.27 L1029.45,652.17 L1029.70,653.10 L1029.95,654.05 L1030.21,655.03 L1030.47,656.03 L1030.73,657.06 L1031.00,658.12 L1031.27,659.22 L1031.54,660.35 L1031.81,661.51 L1032.07,662.71 L1032.33,663.93 L1032.60,665.18 L1032.85,666.45 L1033.11,667.74 L1033.37,669.05 L1033.62,670.37 L1033.76,671.08 M1037.81,693.56 L1037.87,693.90 L1038.11,695.36 L1038.36,696.82 L1038.60,698.27 L1038.85,699.73 L1039.09,701.18 L1039.32,702.62 L1039.56,704.05 L1039.79,705.47 L1040.01,706.87 L1040.24,708.25 L1040.45,709.61 L1040.67,710.94 L1040.88,712.25 L1041.08,713.54 L1041.28,714.81 L1041.47,716.06 L1041.67,717.30 L1041.86,718.53 L1042.04,719.74 L1042.05,719.81 M1045.14,742.44 L1045.15,742.48 L1045.26,743.50 L1045.38,744.52 L1045.49,745.54 L1045.60,746.55 L1045.71,747.56 L1045.81,748.56 L1045.92,749.57 L1046.02,750.58 L1046.12,751.59 L1046.22,752.60 L1046.32,753.62 L1046.41,754.65 L1046.51,755.68 L1046.61,756.73 L1046.70,757.81 L1046.80,758.94 L1046.90,760.11 L1047.00,761.31 L1047.10,762.52 L1047.19,763.75 L1047.29,764.98 L1047.38,766.21 L1047.47,767.43 L1047.56,768.62 L1047.58,768.92 M805.20,515.73 L805.37,515.80 L806.50,516.25 L807.63,516.71 L807.80,516.77 M849.53,534.60 L849.68,534.67 L850.80,535.20 L851.91,535.74 L852.06,535.81 M893.63,556.69 L893.76,556.76 L894.88,557.33 L895.99,557.89 L896.12,557.96 M937.97,579.84 L938.10,579.90 L939.20,580.50 L940.30,581.10 L940.43,581.17 M981.73,604.14 L981.95,604.27 L982.93,604.87 L983.90,605.46 L984.12,605.60 M180.51,202.24 L180.83,202.51 L182.14,203.65 L182.63,204.06 M219.22,234.05 L219.64,234.38 L221.20,235.59 L221.43,235.77 M259.22,264.22 L259.57,264.48 L261.14,265.62 L261.49,265.87 M300.53,292.58 L300.93,292.84 L302.35,293.75 L302.89,294.09 M343.35,318.61 L343.76,318.85 L345.22,319.73 L345.74,320.05 M386.66,343.81 L386.95,343.97 L388.49,344.83 L389.10,345.17 M430.94,367.25 L431.26,367.41 L432.29,367.93 L433.31,368.45 L433.44,368.51 M476.19,388.76 L476.25,388.79 L477.36,389.30 L478.47,389.80 L478.74,389.92 M522.10,408.85 L522.21,408.89 L523.29,409.33 L524.37,409.77 L524.69,409.90 M568.54,427.66 L568.73,427.74 L570.16,428.35 L571.12,428.75 M614.67,447.23 L615.19,447.44 L616.80,448.09 L617.27,448.28 M661.63,464.68 L661.84,464.75 L663.26,465.23 L664.29,465.57 M709.16,480.55 L709.56,480.68 L711.07,481.18 L711.82,481.43 M756.65,496.55 L756.92,496.65 L758.25,497.12 L759.28,497.50 M1021.25,634.81 L1021.28,634.85 L1021.74,635.45 L1022.20,636.05 L1022.64,636.66 L1022.92,637.06 M1035.57,680.94 L1035.63,681.28 L1035.88,682.64 L1036.07,683.69 M1043.51,729.72 L1043.52,729.81 L1043.68,730.94 L1043.83,732.05 L1043.89,732.50" fill="none" stroke="#000" stroke-width="3.5" stroke-linejoin="round" stroke-linecap="butt"/>
<path d="M157.50,182.50 C158.08,182.92 156.60,181.23 161.00,185.00 C165.40,188.77 175.29,197.83 183.88,205.12 C192.46,212.42 202.50,220.79 212.50,228.75 C222.50,236.71 233.46,245.08 243.88,252.88 C254.29,260.67 264.94,268.49 275.00,275.50 C285.06,282.51 294.79,288.93 304.25,294.92 C313.71,300.90 322.27,305.78 331.75,311.43 C341.23,317.08 351.00,322.97 361.12,328.81 C371.25,334.64 382.67,341.10 392.50,346.45 C402.33,351.80 411.96,356.70 420.12,360.89 C428.29,365.08 434.52,368.20 441.50,371.58 C448.48,374.96 454.92,377.91 462.00,381.17 C469.08,384.43 476.69,387.85 484.00,391.11 C491.31,394.38 498.61,397.69 505.88,400.77 C513.14,403.86 520.44,406.79 527.60,409.63 C534.76,412.47 540.83,414.60 548.83,417.84 C556.83,421.07 565.45,424.73 575.60,429.03 C585.75,433.33 599.02,439.20 609.75,443.65 C620.48,448.09 630.79,452.21 640.00,455.68 C649.21,459.16 656.67,461.63 665.00,464.50 C673.33,467.37 681.67,470.10 690.00,472.88 C698.33,475.65 706.67,478.40 715.00,481.12 C723.33,483.85 731.67,486.60 740.00,489.25 C748.33,491.90 757.29,494.65 765.00,497.00 C772.71,499.35 779.79,501.42 786.25,503.38 C792.71,505.33 797.29,506.65 803.75,508.75 C810.21,510.85 817.29,513.17 825.00,516.00 C832.71,518.83 841.67,522.31 850.00,525.75 C858.33,529.19 866.67,532.90 875.00,536.62 C883.33,540.35 892.08,544.42 900.00,548.12 C907.92,551.83 915.79,555.60 922.50,558.88 C929.21,562.15 934.62,564.85 940.25,567.75 C945.88,570.65 950.83,573.31 956.25,576.25 C961.67,579.19 967.29,582.25 972.75,585.38 C978.21,588.50 983.79,591.65 989.00,595.00 C994.21,598.35 999.42,601.88 1004.00,605.50 C1008.58,609.12 1012.79,612.92 1016.50,616.75 C1020.21,620.58 1023.42,624.56 1026.25,628.50 C1029.08,632.44 1031.40,636.27 1033.50,640.38 C1035.60,644.48 1037.23,648.27 1038.88,653.12 C1040.52,657.98 1041.96,663.35 1043.38,669.50 C1044.79,675.65 1046.12,682.75 1047.38,690.00 C1048.62,697.25 1049.79,705.08 1050.88,713.00 C1051.96,720.92 1052.96,729.25 1053.88,737.50 C1054.79,745.75 1055.62,754.04 1056.38,762.50 C1057.12,770.96 1057.79,779.58 1058.38,788.25 C1058.96,796.92 1059.44,805.88 1059.88,814.50 C1060.31,823.12 1060.81,835.75 1061.00,840.00" fill="none" stroke="#000" stroke-width="3.5" stroke-linejoin="round" stroke-linecap="butt" stroke-dasharray="23.5 11"/>
<path d="M157.50,182.50 C158.08,182.92 156.60,181.23 161.00,185.00 C165.40,188.77 175.29,197.83 183.88,205.12 C192.46,212.42 202.50,220.79 212.50,228.75 C222.50,236.71 233.46,245.08 243.88,252.88 C254.29,260.67 264.94,268.50 275.00,275.50 C285.06,282.50 294.79,288.92 304.25,294.88 C313.71,300.83 322.27,305.66 331.75,311.25 C341.23,316.84 351.00,322.66 361.12,328.43 C371.25,334.19 382.67,340.57 392.50,345.85 C402.33,351.13 411.96,355.97 420.12,360.10 C428.29,364.23 434.52,367.31 441.50,370.65 C448.48,373.99 454.92,376.92 462.00,380.15 C469.08,383.38 476.69,386.78 484.00,390.02 C491.31,393.27 498.61,396.56 505.88,399.62 C513.14,402.69 520.44,405.60 527.60,408.42 C534.76,411.25 540.83,413.36 548.83,416.57 C556.83,419.79 565.45,423.42 575.60,427.70 C585.75,431.98 599.02,437.82 609.75,442.23 C620.48,446.63 630.79,450.72 640.00,454.15 C649.21,457.57 656.67,459.97 665.00,462.77 C673.33,465.57 681.67,468.22 690.00,470.95 C698.33,473.68 706.67,476.41 715.00,479.12 C723.33,481.84 731.67,484.59 740.00,487.25 C748.33,489.91 757.29,492.68 765.00,495.07 C772.71,497.47 779.79,499.59 786.25,501.60 C792.71,503.61 797.29,504.98 803.75,507.15 C810.21,509.32 817.29,511.72 825.00,514.62 C832.71,517.53 841.67,521.08 850.00,524.58 C858.33,528.07 866.67,531.82 875.00,535.58 C883.33,539.33 892.08,543.41 900.00,547.12 C907.92,550.84 915.79,554.60 922.50,557.88 C929.21,561.15 934.62,563.88 940.25,566.75 C945.88,569.62 950.83,572.27 956.25,575.12 C961.67,577.98 967.27,580.91 972.75,583.88 C978.23,586.84 983.85,589.79 989.15,592.90 C994.45,596.01 999.76,599.11 1004.55,602.55 C1009.34,605.99 1013.87,609.64 1017.90,613.52 C1021.93,617.41 1025.69,621.90 1028.75,625.88 C1031.81,629.85 1034.19,633.56 1036.25,637.38 C1038.31,641.19 1039.60,644.23 1041.12,648.75 C1042.65,653.27 1044.00,658.42 1045.38,664.50 C1046.75,670.58 1048.12,677.83 1049.38,685.25 C1050.62,692.67 1051.80,700.79 1052.88,709.00 C1053.95,717.21 1054.94,725.88 1055.83,734.50 C1056.71,743.12 1057.49,751.88 1058.20,760.75 C1058.91,769.62 1059.53,778.79 1060.07,787.75 C1060.62,796.71 1061.07,805.79 1061.47,814.50 C1061.88,823.21 1062.33,835.75 1062.50,840.00" fill="none" stroke="#000" stroke-width="4.3" stroke-linejoin="round" stroke-linecap="butt"/>
<text x="146" y="89.3" font-family="Liberation Sans, sans-serif" font-size="47" text-anchor="end" textLength="69.0" stroke="#fff" stroke-width="0.9">4.5</text>
<text x="145" y="313.6" font-family="Liberation Sans, sans-serif" font-size="47" text-anchor="end" stroke="#fff" stroke-width="0.9">4</text>
<text x="146" y="539.8" font-family="Liberation Sans, sans-serif" font-size="47" text-anchor="end" textLength="69.9" stroke="#fff" stroke-width="0.9">3.5</text>
<text x="146" y="766.2" font-family="Liberation Sans, sans-serif" font-size="47" text-anchor="end" stroke="#fff" stroke-width="0.9">3</text>
<text x="155.7" y="891.7" font-family="Liberation Sans, sans-serif" font-size="47" text-anchor="middle" stroke="#fff" stroke-width="0.9">0</text>
<text x="410.0" y="891.7" font-family="Liberation Sans, sans-serif" font-size="47" text-anchor="middle" textLength="55.8" stroke="#fff" stroke-width="0.9">10</text>
<text x="660.0" y="891.7" font-family="Liberation Sans, sans-serif" font-size="47" text-anchor="middle" textLength="55.9" stroke="#fff" stroke-width="0.9">20</text>
<text x="912.8" y="891.7" font-family="Liberation Sans, sans-serif" font-size="47" text-anchor="middle" textLength="58.0" stroke="#fff" stroke-width="0.9">30</text>
<text x="1164.2" y="891.7" font-family="Liberation Sans, sans-serif" font-size="47" text-anchor="middle" textLength="55.0" stroke="#fff" stroke-width="0.9">40</text>
<text x="462.7" y="957" font-family="Liberation Sans, sans-serif" font-size="64" textLength="388.5" lengthAdjust="spacingAndGlyphs" stroke="#fff" stroke-width="1.4">Capacity (Ah)</text>
<text transform="translate(51.3,612.2) rotate(-90)" x="0" y="0" font-family="Liberation Sans, sans-serif" font-size="64" textLength="319.4" lengthAdjust="spacingAndGlyphs" stroke="#fff" stroke-width="1.4">Voltage (V)</text>
<text x="192" y="790" font-family="Liberation Sans, sans-serif" font-size="63.5" stroke="#fff" stroke-width="1.4">Graphite + NMC</text>
<rect x="570.5" y="7.3" width="705.0" height="440.7" fill="#fff"/>
<line x1="569.0" y1="7.3" x2="1275.5" y2="7.3" stroke="#666" stroke-width="3"/>
<line x1="570.5" y1="7.3" x2="570.5" y2="448" stroke="#666" stroke-width="3"/>
<line x1="569.0" y1="448" x2="1277.0" y2="448" stroke="#1a1a1a" stroke-width="3"/>
<line x1="1275.5" y1="5.8" x2="1275.5" y2="448" stroke="#2a2a2a" stroke-width="3"/>
<line x1="588" y1="52.3" x2="683.5" y2="52.3" stroke="#000" stroke-width="4.4"/>
<text x="693" y="62.3" font-family="Liberation Sans, sans-serif" font-size="51" textLength="189.25" stroke="#fff" stroke-width="1.0">1C; D=D</text>
<text x="880.5" y="85.6" font-family="Liberation Sans, sans-serif" font-size="37" style="fill:#333" stroke="#fff" stroke-width="0.8">0</text>
<text x="900" y="62.3" font-family="Liberation Sans, sans-serif" font-size="51" textLength="286.7" stroke="#fff" stroke-width="1.0">; No damage</text>
<line x1="588" y1="138.4" x2="683.5" y2="138.4" stroke="#ff0000" stroke-width="4.4"/>
<text x="693" y="148.3" font-family="Liberation Sans, sans-serif" font-size="51" textLength="189.25" stroke="#fff" stroke-width="1.0">3C; D=D</text>
<text x="880.5" y="171.60000000000002" font-family="Liberation Sans, sans-serif" font-size="37" style="fill:#333" stroke="#fff" stroke-width="0.8">0</text>
<text x="900" y="148.3" font-family="Liberation Sans, sans-serif" font-size="51" textLength="286.7" stroke="#fff" stroke-width="1.0">; No damage</text>
<line x1="597" y1="213.7" x2="620" y2="213.7" stroke="#000" stroke-width="4"/>
<line x1="629.6" y1="213.7" x2="652.7" y2="213.7" stroke="#000" stroke-width="4"/>
<line x1="662.3" y1="213.7" x2="683.3" y2="213.7" stroke="#000" stroke-width="4"/>
<text x="693" y="234.5" font-family="Liberation Sans, sans-serif" font-size="51" textLength="528.7" stroke="#fff" stroke-width="1.0">1C; D=D(c); No damage</text>
<line x1="597" y1="279.0" x2="620" y2="279.0" stroke="#ff0000" stroke-width="4"/>
<line x1="629.6" y1="279.0" x2="652.7" y2="279.0" stroke="#ff0000" stroke-width="4"/>
<line x1="662.3" y1="279.0" x2="683.3" y2="279.0" stroke="#ff0000" stroke-width="4"/>
<text x="693" y="299.8" font-family="Liberation Sans, sans-serif" font-size="51" textLength="528.7" stroke="#fff" stroke-width="1.0">3C; D=D(c); No damage</text>
<line x1="588" y1="344.2" x2="611" y2="344.2" stroke="#000" stroke-width="4"/>
<line x1="620" y1="344.2" x2="622.8" y2="344.2" stroke="#000" stroke-width="4"/>
<line x1="631.8" y1="344.2" x2="654.9" y2="344.2" stroke="#000" stroke-width="4"/>
<line x1="664" y1="344.2" x2="666.8" y2="344.2" stroke="#000" stroke-width="4"/>
<line x1="677" y1="344.2" x2="683.3" y2="344.2" stroke="#000" stroke-width="4"/>
<text x="693" y="365.8" font-family="Liberation Sans, sans-serif" font-size="51" textLength="566.3" stroke="#fff" stroke-width="1.0">1C; D=D(c); With damage</text>
<line x1="588" y1="407.3" x2="611" y2="407.3" stroke="#ff0000" stroke-width="4"/>
<line x1="620" y1="407.3" x2="622.8" y2="407.3" stroke="#ff0000" stroke-width="4"/>
<line x1="631.8" y1="407.3" x2="654.9" y2="407.3" stroke="#ff0000" stroke-width="4"/>
<line x1="664" y1="407.3" x2="666.8" y2="407.3" stroke="#ff0000" stroke-width="4"/>
<line x1="677" y1="407.3" x2="683.3" y2="407.3" stroke="#ff0000" stroke-width="4"/>
<text x="693" y="430.8" font-family="Liberation Sans, sans-serif" font-size="51" textLength="566.3" stroke="#fff" stroke-width="1.0">3C; D=D(c); With damage</text>
</svg>
</body></html>
